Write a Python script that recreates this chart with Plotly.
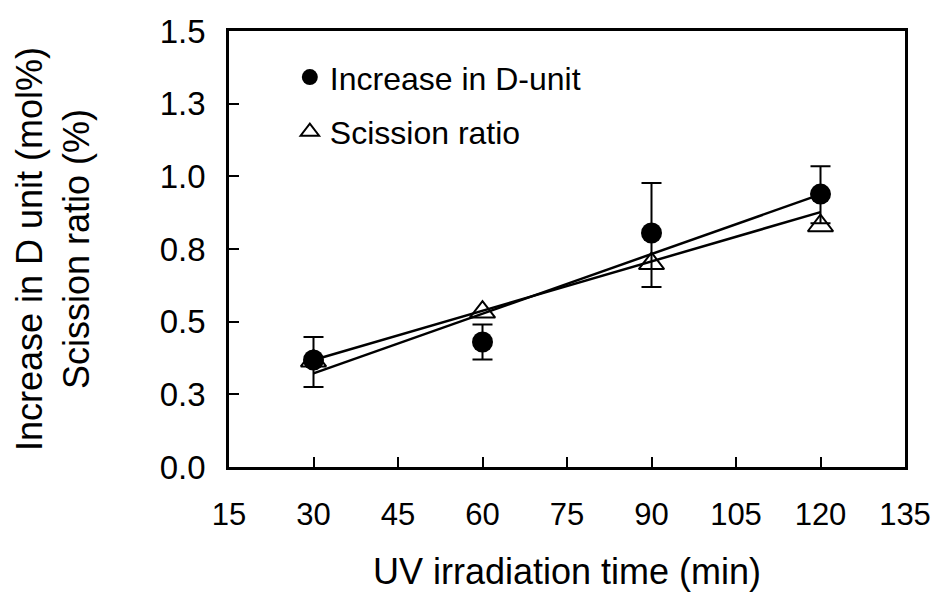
import plotly.graph_objects as go

# ---- data ----
time_min = [30, 60, 90, 120]
d_unit = [0.368, 0.430, 0.805, 0.939]
d_err_plus = [0.079, 0.060, 0.172, 0.096]
d_err_minus = [0.093, 0.060, 0.186, 0.100]
scission = [0.365, 0.533, 0.700, 0.830]

fit_x = [30, 120]
fit_d_unit = [0.322, 0.938]
fit_scission = [0.368, 0.877]

x_ticks = [15, 30, 45, 60, 75, 90, 105, 120, 135]
y_ticks = [0.0, 0.25, 0.5, 0.75, 1.0, 1.25, 1.5]
y_ticktext = ["0.0", "0.3", "0.5", "0.8", "1.0", "1.3", "1.5"]

FONT = "Arial, Liberation Sans, sans-serif"

fig = go.Figure()

fig.add_trace(go.Scatter(
    x=time_min, y=scission, mode="markers", name="Scission ratio",
    legendgroup="s", legendrank=2,
    marker=dict(symbol="triangle-up", size=22, color="white",
                line=dict(color="black", width=2)),
))
fig.add_trace(go.Scatter(
    x=fit_x, y=fit_scission, mode="lines", showlegend=False,
    line=dict(color="black", width=2.5),
))
fig.add_trace(go.Scatter(
    x=fit_x, y=fit_d_unit, mode="lines", showlegend=False,
    line=dict(color="black", width=2.5),
))
fig.add_trace(go.Scatter(
    x=time_min, y=d_unit, mode="markers", name="Increase in D-unit",
    legendgroup="d", legendrank=1,
    marker=dict(symbol="circle", size=21, color="black"),
    error_y=dict(type="data", array=d_err_plus, arrayminus=d_err_minus,
                 color="black", thickness=2, width=10, symmetric=False),
))

fig.update_layout(
    width=940, height=592,
    margin=dict(l=229, r=35, t=31, b=125),
    paper_bgcolor="white", plot_bgcolor="white",
    font=dict(family=FONT, size=31, color="black"),
    showlegend=True,
    legend=dict(x=0.09, y=0.957, xanchor="left", yanchor="top",
                bgcolor="rgba(0,0,0,0)", traceorder="grouped",
                tracegroupgap=10, font=dict(size=32)),
)
fig.update_xaxes(
    range=[15, 135], tickvals=x_ticks, ticks="inside", ticklen=10, tickwidth=2,
    tickcolor="black", showline=True, linecolor="black", linewidth=2.5,
    mirror=True, showgrid=False, zeroline=False, ticklabelstandoff=18,
    tickfont=dict(size=31), automargin=False,
    title=dict(text="UV irradiation time (min)", font=dict(size=36), standoff=36),
)
fig.update_yaxes(
    range=[0, 1.5], tickvals=y_ticks, ticktext=y_ticktext, ticks="inside",
    ticklen=10, tickwidth=2, tickcolor="black", showline=True,
    linecolor="black", linewidth=2.5, mirror=True, showgrid=False,
    zeroline=False, ticklabelstandoff=14, tickfont=dict(size=33),
    automargin=False,
    title=dict(text="Increase in D unit (mol%)<br>Scission ratio (%)",
               font=dict(size=36), standoff=60),
)

fig.write_html("out.html")
